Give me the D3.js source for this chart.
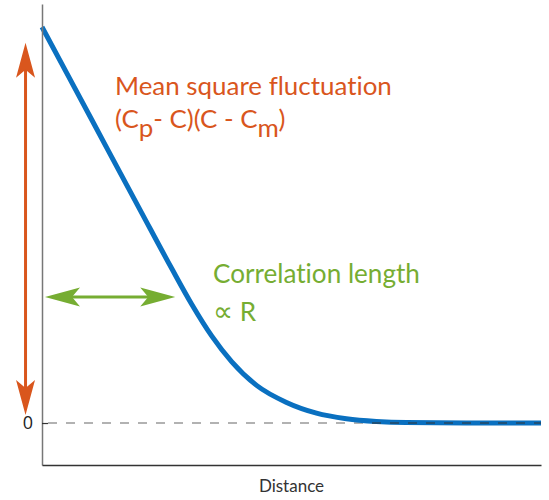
<!DOCTYPE html>
<html>
  <head>
    <style>
      body { margin: 0; background: #fff; }
      svg text { font-family: Lato, "Open Sans", sans-serif; font-variant-ligatures: none; }
    </style>
  </head>
  <body>
    <svg class="chart"></svg>
    <script src="https://d3js.org/d3.v7.min.js"></script>
    <script>
      // curve (distance, fluctuation)
      var distance = [0, 1.0, 2.0, 2.6, 3.0, 3.4, 3.8, 4.3, 4.9, 5.5, 6.1, 6.7, 7.3, 8.5, 10];
      var fluctuation = [1.0, 0.765, 0.53, 0.39, 0.30, 0.22, 0.155, 0.095, 0.052, 0.025, 0.011, 0.004, 0.001, 0.0, 0.0];
      var yTicks = [0];
      var yTickLabels = ["0"];
      // annotation arrows, in data units
      var heightArrow = [0.02, 0.96];     // vertical orange arrow, y from/to
      var lengthArrow = [0.06, 2.67];     // horizontal green arrow, x from/to
      var lengthArrowY = 0.318;

      var width = 549,
        height = 500,
        plotLeft = 42,
        plotRight = 541,
        plotTop = 4,
        plotBottom = 465;

      var orange = "#d9561d",
        green = "#76ad32",
        blue = "#0a70c0";

      var x = d3.scaleLinear().domain([0, 10]).range([plotLeft, plotRight]);
      var y = d3.scaleLinear().domain([-0.106, 1.058]).range([plotBottom, plotTop]);

      var svg = d3.select(".chart").attr("width", width).attr("height", height);

      // zero reference line
      svg.append("line")
        .attr("x1", x(0)).attr("x2", x(10))
        .attr("y1", y(0)).attr("y2", y(0))
        .attr("stroke", "#666")
        .attr("stroke-width", 1.2)
        .attr("stroke-dasharray", "9,9")
        .attr("stroke-dashoffset", -6);

      var line = d3.line()
        .x(function (d, i) { return x(distance[i]); })
        .y(function (d) { return y(d); })
        .curve(d3.curveMonotoneX);

      svg.append("path")
        .datum(fluctuation)
        .attr("d", line)
        .attr("fill", "none")
        .attr("stroke", blue)
        .attr("stroke-width", 5);

      // dashes show over the flat part of the curve
      svg.append("line")
        .attr("x1", x(6.6)).attr("x2", x(10))
        .attr("y1", y(0)).attr("y2", y(0))
        .attr("stroke", "#333")
        .attr("stroke-width", 1.2)
        .attr("stroke-dasharray", "9,9")
        .attr("stroke-dashoffset", -6 + (x(6.6) - x(0)));

      var yAxis = svg.append("g")
        .attr("transform", "translate(" + plotLeft + ",0)")
        .call(d3.axisLeft(y).tickValues(yTicks)
          .tickFormat(function (d, i) { return yTickLabels[i]; })
          .tickSizeInner(-6).tickSizeOuter(0).tickPadding(9));
      yAxis.select(".domain").attr("stroke", "#777").attr("stroke-width", 1.5);
      yAxis.selectAll(".tick line").attr("stroke", "#333").attr("stroke-width", 1.2);
      yAxis.selectAll(".tick text")
        .style("font-size", "18px").attr("fill", "#222")
        .style("font-family", "'Open Sans', sans-serif");

      var xAxis = svg.append("g")
        .attr("transform", "translate(0," + plotBottom + ")")
        .call(d3.axisBottom(x).tickValues([]).tickSizeOuter(0));
      xAxis.select(".domain").attr("stroke", "#333").attr("stroke-width", 1.5);

      svg.append("text")
        .attr("x", (plotLeft + plotRight) / 2)
        .attr("y", 492)
        .attr("text-anchor", "middle")
        .attr("font-size", 17)
        .attr("fill", "#333")
        .text("Distance");

      // double arrow with barbed heads
      function arrowHead(g, tipX, tipY, dx, dy, color) {
        // dx,dy: unit vector pointing toward the tip
        var len = 35, notch = 27, half = 9.5;
        var bx = tipX - dx * len, by = tipY - dy * len;
        var nx = tipX - dx * notch, ny = tipY - dy * notch;
        var px = -dy, py = dx;
        g.append("path")
          .attr("d", "M" + tipX + "," + tipY +
            "L" + (bx + px * half) + "," + (by + py * half) +
            "L" + nx + "," + ny +
            "L" + (bx - px * half) + "," + (by - py * half) + "Z")
          .attr("fill", color);
      }

      var ax = x(-0.33);
      var vg = svg.append("g");
      vg.append("line")
        .attr("x1", ax).attr("x2", ax)
        .attr("y1", y(heightArrow[0]) - 20).attr("y2", y(heightArrow[1]) + 20)
        .attr("stroke", orange).attr("stroke-width", 3);
      arrowHead(vg, ax, y(heightArrow[1]), 0, -1, orange);
      arrowHead(vg, ax, y(heightArrow[0]), 0, 1, orange);

      var hg = svg.append("g");
      var hy = y(lengthArrowY);
      hg.append("line")
        .attr("x1", x(lengthArrow[0]) + 20).attr("x2", x(lengthArrow[1]) - 20)
        .attr("y1", hy).attr("y2", hy)
        .attr("stroke", green).attr("stroke-width", 3);
      arrowHead(hg, x(lengthArrow[0]), hy, -1, 0, green);
      arrowHead(hg, x(lengthArrow[1]), hy, 1, 0, green);

      // labels
      function fit(sel, w) {
        var fs = +sel.attr("font-size");
        var cur = sel.node().getComputedTextLength();
        sel.attr("font-size", fs * w / cur);
      }

      var t1 = svg.append("text")
        .attr("x", 115).attr("y", 95)
        .attr("font-size", 24).attr("fill", orange)
        .text("Mean square fluctuation");
      fit(t1, 277);

      var t2 = svg.append("text")
        .attr("x", 115).attr("y", 128)
        .attr("font-size", t1.attr("font-size")).attr("fill", orange);
      t2.append("tspan").text("(C");
      t2.append("tspan").attr("dy", 9).text("p");
      t2.append("tspan").attr("dy", -9).text("- C)(C - C");
      t2.append("tspan").attr("dy", 9).text("m");
      t2.append("tspan").attr("dy", -9).text(")");

      var t3 = svg.append("text")
        .attr("x", 213).attr("y", 283)
        .attr("font-size", 24).attr("fill", green)
        .text("Correlation length");
      fit(t3, 207);

      var t4 = svg.append("text")
        .attr("x", 213).attr("y", 321)
        .attr("font-size", t3.attr("font-size")).attr("fill", green);
      t4.append("tspan").style("font-family", "'DejaVu Sans', sans-serif")
        .style("font-size", "28px").text("\u221D");
      t4.append("tspan").text(" R");
    </script>
  </body>
</html>
